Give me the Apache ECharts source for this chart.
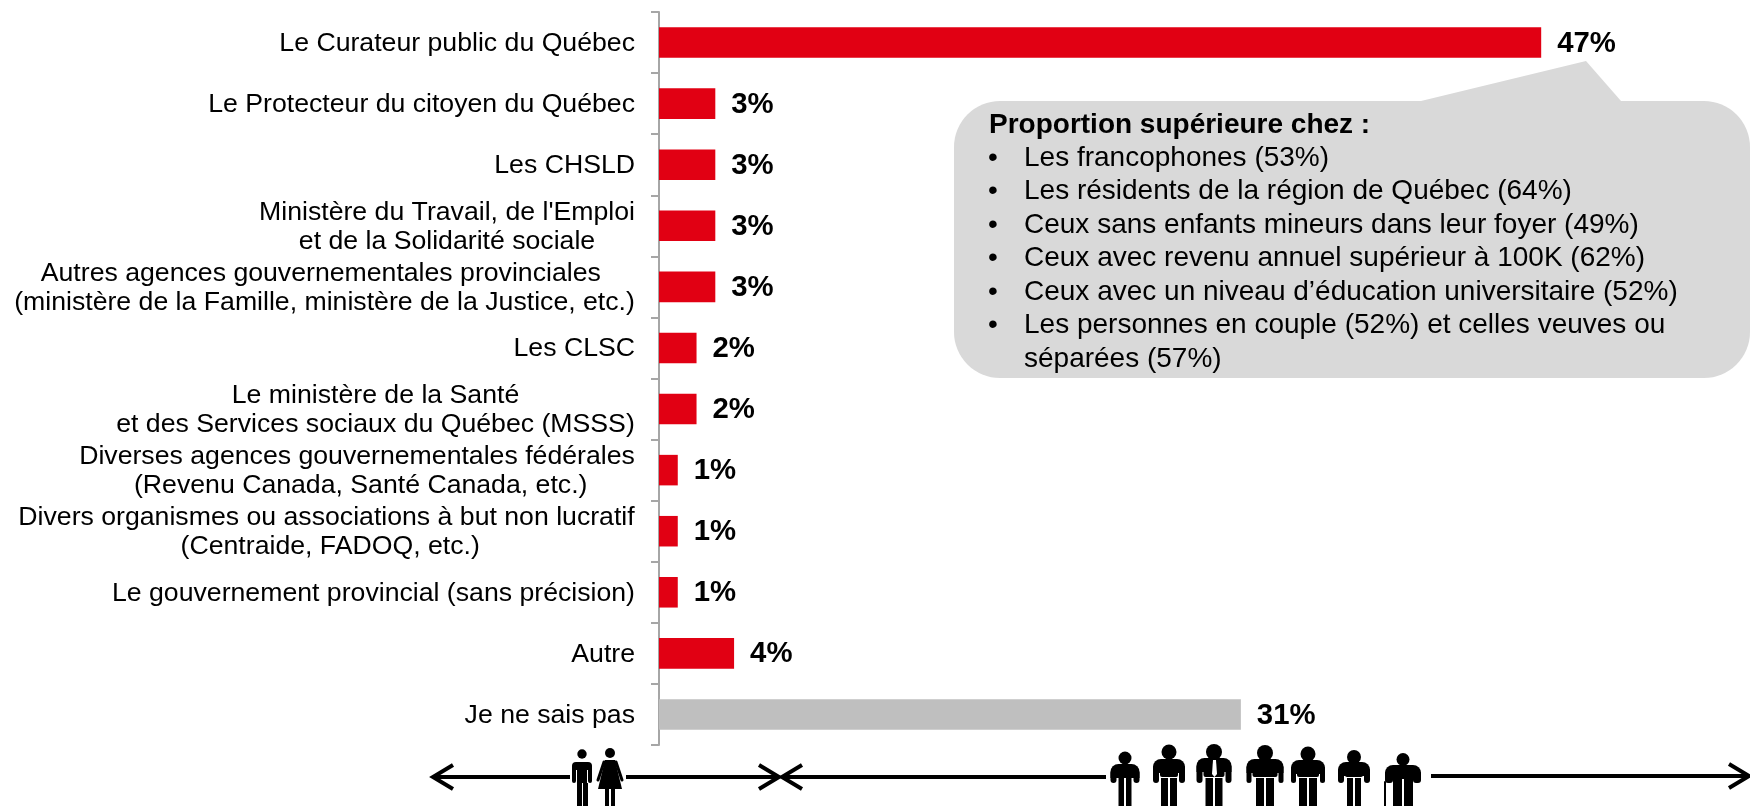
<!DOCTYPE html>
<html>
<head>
<meta charset="utf-8">
<script src="https://cdn.jsdelivr.net/npm/echarts@6/dist/echarts.min.js"></script>
<style>
  html, body { margin: 0; padding: 0; background: #fff; }
  #main { width: 1750px; height: 806px; }
</style>
</head>
<body>
<div id="main"></div>
<script>
// categories, top to bottom. the nbsp = lines a bit off-centre in the original
const categories = [
  'Le Curateur public du Québec',
  'Le Protecteur du citoyen du Québec',
  'Les CHSLD',
  "Ministère du Travail, de l'Emploi\net de la Solidarité sociale",
  'Autres agences gouvernementales provinciales\u00a0\n(ministère de la Famille, ministère de la Justice, etc.)',
  'Les CLSC',
  'Le ministère de la Santé\net des Services sociaux du Québec (MSSS)',
  'Diverses agences gouvernementales fédérales\n\u00a0(Revenu Canada, Santé Canada, etc.)',
  'Divers organismes ou associations à but non lucratif\n\u00a0(Centraide, FADOQ, etc.)',
  'Le gouvernement provincial (sans précision)',
  'Autre',
  'Je ne sais pas'
];
const values = [47, 3, 3, 3, 3, 2, 2, 1, 1, 1, 4, 31];
const greyCategory = 'Je ne sais pas';

const calloutTitle = 'Proportion supérieure chez :';
const calloutItems = [
  'Les francophones (53%)',
  'Les résidents de la région de Québec (64%)',
  'Ceux sans enfants mineurs dans leur foyer (49%)',
  'Ceux avec revenu annuel supérieur à 100K (62%)',
  'Ceux avec un niveau d’éducation universitaire (52%)',
  'Les personnes en couple (52%) et celles veuves ou',
  'séparées (57%)'
];

const FONT = '"Liberation Sans", Arial, sans-serif';
const LABEL_SIZE = 26.67;

// multi-line labels are centred inside a right-aligned block, so each line needs the block width
const measureCtx = document.createElement('canvas').getContext('2d');
measureCtx.font = LABEL_SIZE + 'px "Liberation Sans"';
const rich = {};
const formatted = {};
categories.forEach((c, i) => {
  const lines = c.split('\n');
  if (lines.length === 1) {
    formatted[c] = c;
    return;
  }
  const w = Math.ceil(Math.max(...lines.map((l) => measureCtx.measureText(l).width)));
  rich['l' + i] = { width: w, align: 'center', fontSize: LABEL_SIZE, fontFamily: FONT, color: '#000', lineHeight: 29 };
  formatted[c] = lines.map((l) => '{l' + i + '|' + l + '}').join('\n');
});

// pictograms along the bottom
const black = { fill: '#000' };
const white = { fill: '#fff' };
const bar = (x, y, w, h, r) => ({ type: 'rect', shape: { x, y, width: w, height: h, r: r || 0 }, style: black });

// w = width with arms, t = torso width, l = width across both legs
const figure = (cx, headY, headR, top, w, t, l) => {
  const legW = (l - 2) / 2;
  const armW = (w - t - 2) / 2;
  return [
    { type: 'circle', shape: { cx, cy: headY, r: headR }, style: black },
    bar(cx - w / 2, top, w, 14, [8, 8, 0, 0]),
    bar(cx - w / 2, top + 6, armW, 783 - top - 6, 3),
    bar(cx + w / 2 - armW, top + 6, armW, 783 - top - 6, 3),
    bar(cx - t / 2, top + 6, t, 777 - top - 6, 2),
    bar(cx - l / 2, 778, legW, 28),
    bar(cx + 1, 778, legW, 28)
  ];
};

const chevron = (tipX, y, dir) => ({
  type: 'polyline',
  shape: { points: [[tipX + dir * 20, y - 12], [tipX, y], [tipX + dir * 20, y + 12]] },
  style: { stroke: '#000', lineWidth: 4, fill: null }
});
const hLine = (x1, x2, y) => ({
  type: 'line',
  shape: { x1, y1: y, x2, y2: y },
  style: { stroke: '#000', lineWidth: 4 }
});
const stroke = (x1, y1, x2, y2, lineWidth) => ({
  type: 'line',
  shape: { x1, y1, x2, y2 },
  style: { stroke: '#000', lineWidth, lineCap: 'round' }
});

const pictos = [
  hLine(434, 570, 777), chevron(433, 777, 1),
  hLine(626, 778, 777), chevron(779, 777, -1),
  hLine(783, 1106, 777), chevron(782, 777, 1),
  hLine(1431, 1748, 776), chevron(1749, 776, -1),

  // man + woman
  { type: 'circle', shape: { cx: 582, cy: 754, r: 4.7 }, style: black },
  bar(572, 762, 20, 8, [4, 4, 0, 0]),
  bar(572, 765, 4, 18, 2),
  bar(588, 765, 4, 18, 2),
  bar(577, 765, 10, 18),
  bar(577, 783, 5, 23),
  bar(583, 783, 5, 23),
  { type: 'circle', shape: { cx: 610, cy: 753, r: 5 }, style: black },
  { type: 'polygon', shape: { points: [[605, 760], [615, 760], [622, 789], [598, 789]] }, style: black },
  stroke(604, 762, 598, 780, 3),
  stroke(616, 762, 622, 780, 3),
  bar(605, 789, 4, 17),
  bar(611, 789, 4, 17),

  ...figure(1125, 758, 6.5, 764, 29, 15, 13),
  ...figure(1169, 752, 7.5, 759, 32, 18, 16),
  ...figure(1214, 752, 8, 758, 35, 21, 17),
  { type: 'polygon', shape: { points: [[1213, 760], [1216, 760], [1217, 774], [1214.5, 777], [1212, 774]] }, style: white },
  ...figure(1265, 753, 8, 759, 37, 25, 18),
  ...figure(1308, 754, 7.5, 760, 34, 22, 18),
  ...figure(1354, 757, 7, 762, 32, 18, 14),
  ...figure(1403, 759.5, 6.5, 765, 36, 18, 20),
  stroke(1385, 782, 1385, 806, 2)
];

// callout
const bubble = [
  { type: 'rect', shape: { x: 954, y: 101, width: 796, height: 277, r: 46 }, style: { fill: '#d9d9d9' } },
  { type: 'polygon', shape: { points: [[1421, 101], [1586, 61], [1621, 101]] }, style: { fill: '#d9d9d9' } },
  {
    type: 'text',
    style: { x: 989, y: 125.5, text: calloutTitle, font: 'bold 28px ' + FONT, fill: '#000', verticalAlign: 'middle' }
  }
];
calloutItems.forEach((t, i) => {
  const y = 158 + i * 33.5;
  if (i < 6) {
    bubble.push({
      type: 'text',
      style: { x: 988, y, text: '•', font: '28px ' + FONT, fill: '#000', verticalAlign: 'middle' }
    });
  }
  bubble.push({
    type: 'text',
    style: { x: 1024, y, text: t, font: '28px ' + FONT, fill: '#000', verticalAlign: 'middle' }
  });
});

const chart = echarts.init(document.getElementById('main'));
chart.setOption({
  animation: false,
  backgroundColor: '#fff',
  grid: { left: 659, top: 12, width: 938.5, height: 733 },
  xAxis: { type: 'value', min: 0, max: 50, show: false },
  yAxis: {
    type: 'category',
    inverse: true,
    data: categories,
    axisLine: { lineStyle: { color: '#a6a6a6', width: 2 } },
    axisTick: { show: true, length: 8, lineStyle: { color: '#a6a6a6', width: 2 } },
    axisLabel: {
      margin: 24,
      interval: 0,
      fontSize: LABEL_SIZE,
      fontFamily: FONT,
      color: '#000',
      lineHeight: 29,
      padding: [2, 0, 0, 0],
      rich,
      formatter: (v) => formatted[v]
    }
  },
  series: [{
    type: 'bar',
    barCategoryGap: '50%',
    data: categories.map((c, i) => ({
      value: values[i],
      itemStyle: { color: c === greyCategory ? '#bfbfbf' : '#e10013' }
    })),
    label: {
      show: true,
      position: 'right',
      distance: 16,
      offset: [0, 1],
      fontSize: 29.33,
      fontWeight: 'bold',
      fontFamily: FONT,
      color: '#000',
      formatter: '{c}%'
    }
  }],
  graphic: { elements: [...bubble, ...pictos] }
});
</script>
</body>
</html>
